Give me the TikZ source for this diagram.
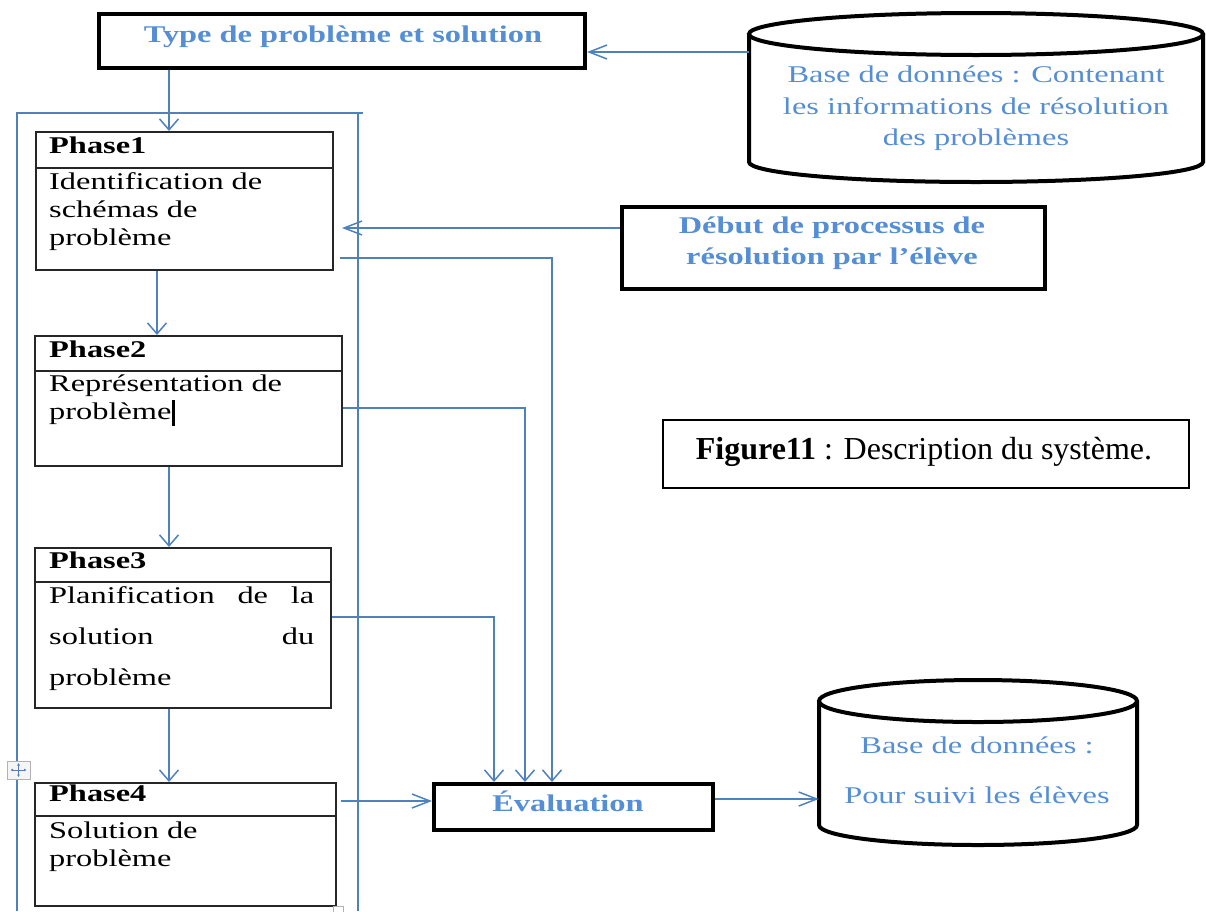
\documentclass[tikz,border=0pt]{standalone}
\usepackage{fontspec}
\setmainfont{Liberation Serif}
% wide screen-style rendering used for the text inside the diagram
\newfontfamily\wordfont[FakeStretch=1.35]{Liberation Serif}
\usetikzlibrary{arrows.meta,calc}

\definecolor{flow}{RGB}{79,129,189}
\definecolor{label}{RGB}{85,142,213}
\definecolor{frame}{RGB}{38,38,38}

\tikzset{
  titlebox/.style={draw=black, line width=4pt, inner sep=0pt, anchor=north west},
  phasebox/.style={draw=frame, line width=2pt, inner sep=0pt, anchor=north west},
  capbox/.style={draw=black, line width=1.5pt, inner sep=0pt, anchor=north west},
  body/.style={inner sep=0pt, minimum width=#1},
  bluetitle/.style={text=label, inner sep=0pt, align=center,
    font=\wordfont\bfseries\fontsize{24}{31}\selectfont},
  dbtext/.style={text=label, inner sep=0pt, align=center,
    font=\wordfont\fontsize{24}{31.5}\selectfont},
  phasehead/.style={inner sep=0pt, anchor=base west,
    font=\wordfont\bfseries\fontsize{24}{28}\selectfont},
  phasebody/.style={inner sep=0pt, anchor=base west, align=left, text width=265pt,
    font=\wordfont\fontsize{24}{28}\selectfont},
  cyl/.style={draw=black, line width=4pt},
  flowline/.style={draw=flow, line width=1.5pt},
  arrv/.style={flowline, -{Straight Barb[length=11pt,width=19pt]}},
  arrh/.style={flowline, -{Straight Barb[length=18pt,width=14pt]}},
}

\begin{document}
\begin{tikzpicture}[x=1pt,y=1pt]
\useasboundingbox (0,0) rectangle (1206,-911);

% guide coordinates for the connectors
\coordinate (x157) at (157,0);
\coordinate (x169) at (169,0);
\coordinate (x494) at (494,0);
\coordinate (x525) at (525,0);
\coordinate (x552) at (552,0);
\coordinate (y52)  at (0,-52);
\coordinate (y228) at (0,-228);
\coordinate (y258) at (0,-258);
\coordinate (y408) at (0,-408);
\coordinate (y617) at (0,-617);
\coordinate (y801) at (0,-801);
\coordinate (y799) at (0,-799);

% table frame around the phases
\draw[flowline] (17,-911) -- (17,-113) -- (363,-113);
\draw[flowline] (358,-113) -- (358,-911);

% title box
\node[titlebox, minimum width=486pt, minimum height=54pt] (type) at (97,-12) {};
\node[bluetitle, anchor=base] (typet) at (343,-42) {Type de problème et solution};

% database of solving information
\node[body=454pt, minimum height=128pt] (db1) at (976,-98) {};
\draw[cyl] (749,-34) -- (749,-162) arc[start angle=180, end angle=360, x radius=227, y radius=20] -- (1203,-34);
\draw[cyl] (976,-34) ellipse [x radius=227, y radius=21];
\node[dbtext] (db1t) at (976,-108.5) {Base de données : Contenant\\les informations de résolution\\des problèmes};

% start of the solving process
\node[titlebox, minimum width=423pt, minimum height=82pt] (debut) at (620,-205) {};
\node[bluetitle] (debutt) at (832,-243) {Début de processus de\\résolution par l’élève};

% phase 1
\node[phasebox, minimum width=297pt, minimum height=138pt] (p1) at (35,-131) {};
\draw[draw=frame, line width=2pt] ($(p1.north west)+(0,-37)$) -- ($(p1.north east)+(0,-37)$);
\node[phasehead] (p1h) at (49,-153) {Phase1};
\node[phasebody] (p1b) at (49,-189) {Identification de\\schémas de\\problème};

% phase 2
\node[phasebox, minimum width=307pt, minimum height=130pt] (p2) at (34,-335) {};
\draw[draw=frame, line width=2pt] ($(p2.north west)+(0,-36)$) -- ($(p2.north east)+(0,-36)$);
\node[phasehead] (p2h) at (49,-357) {Phase2};
\node[phasebody] (p2b) at (49,-391) {Représentation de\\problème\rule[-7pt]{3pt}{26pt}};

% phase 3
\node[phasebox, minimum width=296pt, minimum height=160pt] (p3) at (34,-547) {};
\draw[draw=frame, line width=2pt] ($(p3.north west)+(0,-35)$) -- ($(p3.north east)+(0,-35)$);
\node[phasehead] (p3h) at (49,-568) {Phase3};
\node[phasebody, font=\wordfont\fontsize{24}{41}\selectfont] (p3b) at (49,-603)
  {Planification\hfill de\hfill la\\solution\hfill du\\problème};

% phase 4
\node[phasebox, minimum width=301pt, minimum height=123pt] (p4) at (34,-782) {};
\draw[draw=frame, line width=2pt] ($(p4.north west)+(0,-34)$) -- ($(p4.north east)+(0,-34)$);
\node[phasehead] (p4h) at (49,-801) {Phase4};
\node[phasebody] (p4b) at (49,-838) {Solution de\\problème};

% evaluation
\node[titlebox, minimum width=279pt, minimum height=46pt] (eval) at (432,-782) {};
\node[bluetitle, anchor=base] (evalt) at (568,-811) {Évaluation};

% database for following the pupils
\node[body=318pt, minimum height=124pt] (db2) at (978,-763) {};
\draw[cyl] (819,-701) -- (819,-825) arc[start angle=180, end angle=360, x radius=159, y radius=20] -- (1137,-701);
\draw[cyl] (978,-701) ellipse [x radius=159, y radius=21];
\node[dbtext, font=\wordfont\fontsize{24}{50}\selectfont] (db2t) at (977,-770) {Base de données :\\Pour suivi les élèves};

% caption
\node[capbox, minimum width=526pt, minimum height=68pt] (cap) at (662,-419) {};
\node[anchor=base, inner sep=0pt, font=\fontsize{32}{38}\selectfont] (capt) at (924,-459)
  {\textbf{Figure11} : Description du système.};

% connectors
\draw[arrh] (db1.west |- y52) -- (type.east |- y52);
\draw[arrv] (type.south -| x169) -- (p1.north -| x169);
\draw[arrh] (debut.west |- y228) -- ($(p1.east |- y228)+(8,0)$);
\draw[arrv] (p1.south -| x157) -- (p2.north -| x157);
\draw[arrv] (p2.south -| x169) -- (p3.north -| x169);
\draw[arrv] (p3.south -| x169) -- (p4.north -| x169);
\draw[arrv] ($(p1.east |- y258)+(6,0)$) -| (eval.north -| x552);
\draw[arrv] (p2.east |- y408) -| (eval.north -| x525);
\draw[arrv] (p3.east |- y617) -| (eval.north -| x494);
\draw[arrh] ($(p4.east |- y801)+(4,0)$) -- (eval.west |- y801);
\draw[arrh] (eval.east |- y799) -- (db2.west |- y799);

% table move handle and resize handle
\draw[gray!60, fill=gray!8, line width=1pt] (7,-761) rectangle (30,-779);
\draw[flow, line width=1pt, {Latex[length=2.5pt,width=3pt]}-{Latex[length=2.5pt,width=3pt]}] (10.5,-770) -- (26.5,-770);
\draw[flow, line width=1pt, {Latex[length=2.5pt,width=3pt]}-{Latex[length=2.5pt,width=3pt]}] (18.5,-763) -- (18.5,-777);
\draw[gray!60, fill=white, line width=1pt] (333,-906) rectangle (343,-916);
\end{tikzpicture}
\end{document}
